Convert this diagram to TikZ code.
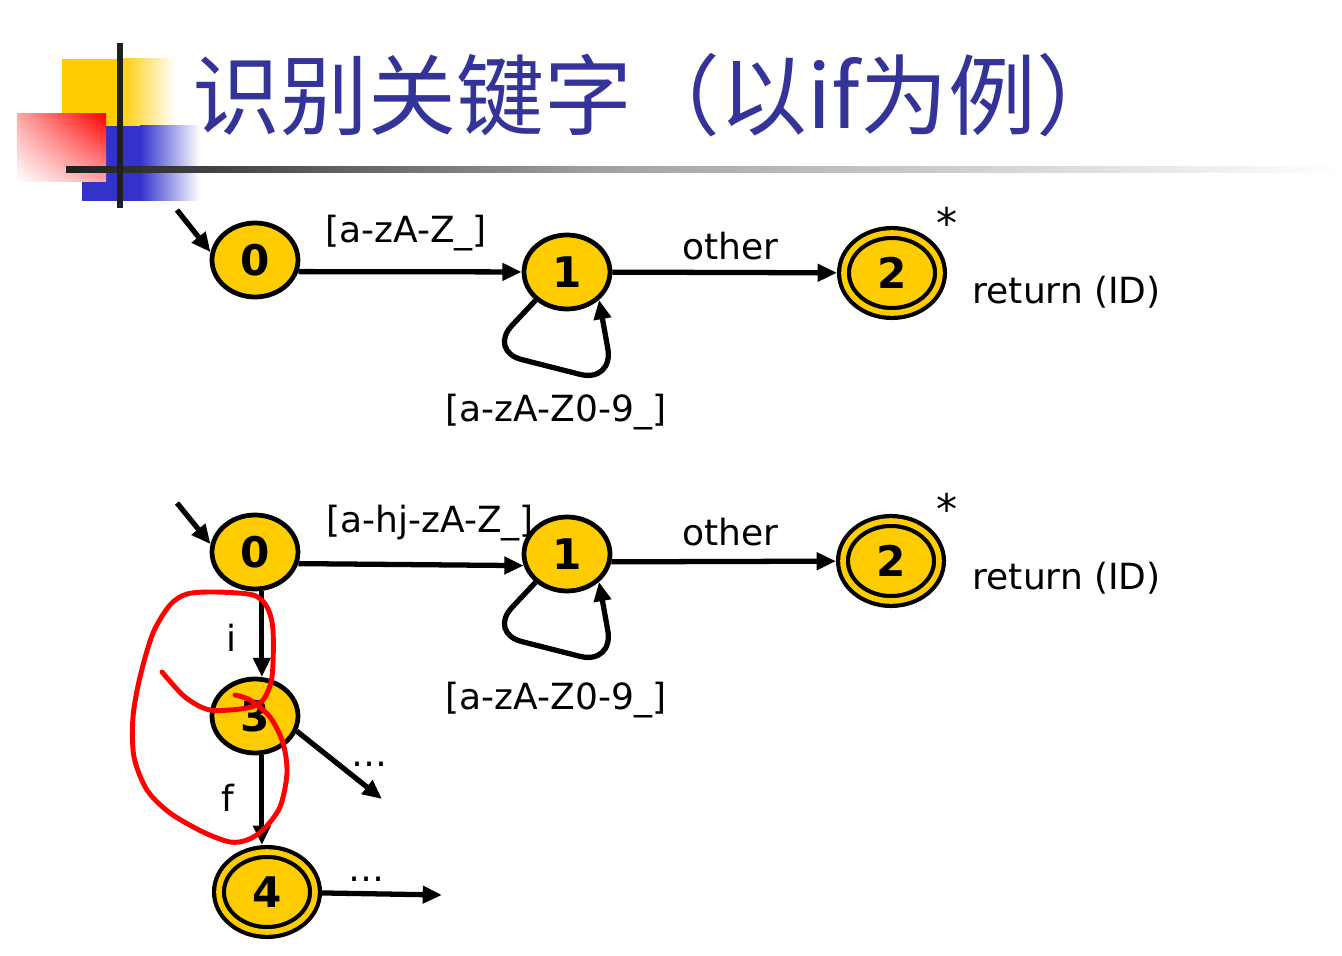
\documentclass[tikz,border=0pt]{standalone}
\usepackage{fontspec}
\setmainfont{DejaVu Sans}
\newfontfamily\cjk{Noto Sans CJK SC}
\usetikzlibrary{shapes.geometric,arrows.meta,shadings}

\definecolor{stategold}{HTML}{FFCC00}
\definecolor{titleblue}{HTML}{333399}
\definecolor{decoblue}{HTML}{3333CC}

\tikzstyle{state} = [ellipse, minimum width=0.86cm, minimum height=0.74cm, inner sep=0pt, font=\fontsize{12}{14}\selectfont\bfseries, style={fill=stategold,draw,line width=1.35pt}]
\tikzstyle{accept} = [ellipse, minimum width=0.96cm, minimum height=0.80cm, inner sep=0pt, outer sep=0.07cm, font=\fontsize{12}{14}\selectfont\bfseries, style={fill=stategold,draw,line width=1.2pt,double=stategold,double distance=1.6pt}]
\tikzstyle{trans} = [-{Triangle[length=5.5pt,width=4.8pt]}, style={line width=1.5pt}]
\tikzstyle{lbl} = [inner sep=0pt, font=\fontsize{10.25}{12}\selectfont]
\tikzstyle{star} = [inner sep=0pt, anchor=base, font=\fontsize{12}{14}\selectfont]
\tikzstyle{redmark} = [red, line width=1.4pt, line cap=round, line join=round]

\begin{document}
\begin{tikzpicture}
	\useasboundingbox (0cm,0cm) rectangle (13.42cm,9.55cm);

% Title decoration
	\fill[stategold] (0.62cm,8.29cm) rectangle (1.20cm,8.96cm);
	\shade[left color=stategold, right color=white] (1.20cm,8.29cm) rectangle (1.75cm,8.96cm);
	\fill[decoblue] (0.82cm,7.54cm) rectangle (1.40cm,8.29cm);
	\shade[left color=decoblue, right color=white] (1.40cm,7.54cm) rectangle (2.00cm,8.29cm);
	\shade[upper left=red!35!white, upper right=red, lower left=white, lower right=red!35!white] (0.17cm,7.73cm) rectangle (1.06cm,8.41cm);
	\shade[left color=black!88, right color=black!37] (0.66cm,7.82cm) rectangle (6.00cm,7.88cm);
	\shade[left color=black!37, right color=white] (6.00cm,7.82cm) rectangle (13.42cm,7.88cm);
	\fill[black!88] (1.17cm,7.47cm) rectangle (1.23cm,9.12cm);
	\node[anchor=base west, inner sep=0pt, text=titleblue, font=\cjk\fontsize{25}{30}\selectfont] at (1.92cm,8.26cm) (title) {识别关键字（以if为例）};

% Identifier automaton
	\coordinate (s0a) at (1.77cm,7.45cm);
	\node[state] at (2.55cm,6.95cm) (n0a) {0};
	\node[state] at (5.67cm,6.83cm) (n1a) {1};
	\node[accept] at (8.92cm,6.82cm) (n2a) {2};
	\node[lbl] at (4.06cm,7.22cm) (l01a) {[a-zA-Z\_]};
	\node[lbl] at (7.30cm,7.09cm) (l12a) {other};
	\node[lbl] at (5.56cm,5.43cm) (l11a) {[a-zA-Z0-9\_]};
	\node[star] at (9.47cm,7.16cm) (stara) {*};
	\node[lbl, anchor=west] at (9.72cm,6.63cm) (reta) {return (ID)};
	\draw[trans] (s0a) -- (n0a.170);
	\draw[trans] (n0a.-15) -- (n1a);
	\draw[trans] (n1a) -- (n2a);
	\draw[trans, rounded corners=10pt] (n1a.222) -- (4.88cm,6.04cm) -- (6.14cm,5.72cm) -- (n1a.-41);

% Keyword automaton
	\coordinate (s0b) at (1.77cm,4.52cm);
	\node[state] at (2.55cm,4.03cm) (n0b) {0};
	\node[state] at (5.67cm,4.01cm) (n1b) {1};
	\node[accept] at (8.91cm,3.94cm) (n2b) {2};
	\node[state] at (2.55cm,2.39cm) (n3) {3};
	\node[accept] at (2.67cm,0.63cm) (n4) {4};
	\coordinate (e3) at (3.82cm,1.56cm);
	\coordinate (e4) at (4.42cm,0.60cm);
	\node[lbl] at (4.30cm,4.32cm) (l01b) {[a-hj-zA-Z\_]};
	\node[lbl] at (7.30cm,4.23cm) (l12b) {other};
	\node[lbl] at (5.56cm,2.55cm) (l11b) {[a-zA-Z0-9\_]};
	\node[star] at (9.47cm,4.30cm) (starb) {*};
	\node[lbl, anchor=west] at (9.72cm,3.77cm) (retb) {return (ID)};
	\node[lbl] at (2.32cm,3.17cm) (l03) {i};
	\node[lbl] at (2.28cm,1.57cm) (l34) {f};
	\node[lbl, anchor=base] at (3.70cm,1.89cm) (l3e) {…};
	\node[lbl, anchor=base] at (3.67cm,0.74cm) (l4e) {…};
	\draw[trans] (s0b) -- (n0b.170);
	\draw[trans] (n0b.-15) -- (n1b.195);
	\draw[trans] (n1b.-10) -- (n2b);
	\draw[trans, rounded corners=10pt] (n1b.222) -- (4.88cm,3.22cm) -- (6.14cm,2.90cm) -- (n1b.-41);
	\draw[trans] (n0b.-80) -- (n3.80);
	\draw[trans] (n3.-80) -- (n3.-80 |- n4.north);
	\draw[trans] (n3.-20) -- (e3);
	\draw[trans] (n4) -- (e4);

% Red hand mark
	\draw[redmark] plot[smooth] coordinates {(1.62,2.83) (1.85,2.58) (2.10,2.45) (2.47,2.47) (2.63,2.55) (2.72,2.78) (2.73,3.25) (2.67,3.48) (2.53,3.60) (2.15,3.63) (1.87,3.61) (1.70,3.50) (1.53,3.22) (1.40,2.78) (1.33,2.38) (1.34,1.98) (1.47,1.65) (1.70,1.42) (2.03,1.23) (2.30,1.13) (2.47,1.15) (2.63,1.25) (2.80,1.48) (2.87,1.82) (2.83,2.12) (2.70,2.38) (2.50,2.55) (2.35,2.60)};

\end{tikzpicture}
\end{document}
